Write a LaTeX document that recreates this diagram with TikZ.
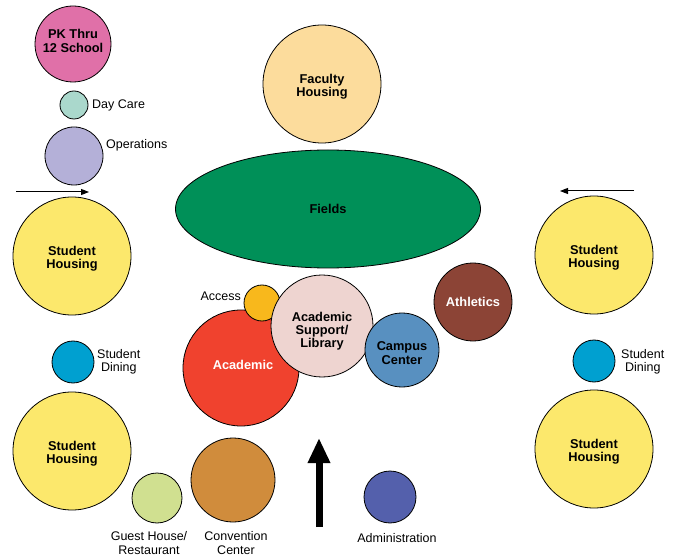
\documentclass[tikz,border=0pt]{standalone}
\usepackage{fontspec}
\setmainfont{Liberation Sans}
\usetikzlibrary{arrows.meta,shapes.geometric}
\definecolor{cpk}{RGB}{224,112,168}
\definecolor{cday}{RGB}{170,216,204}
\definecolor{cops}{RGB}{180,176,216}
\definecolor{chous}{RGB}{252,232,108}
\definecolor{cdin}{RGB}{0,160,208}
\definecolor{cguest}{RGB}{208,224,144}
\definecolor{cconv}{RGB}{208,140,60}
\definecolor{cacad}{RGB}{240,66,46}
\definecolor{cacc}{RGB}{248,184,28}
\definecolor{csup}{RGB}{238,212,208}
\definecolor{ccamp}{RGB}{88,144,192}
\definecolor{cath}{RGB}{140,68,54}
\definecolor{cfield}{RGB}{0,144,88}
\definecolor{cfac}{RGB}{252,220,156}
\definecolor{cadm}{RGB}{84,96,172}
\tikzset{
  bub/.style={circle,draw=black,line width=0.8pt,inner sep=0pt},
  tx/.style={inner sep=0pt,align=center,font=\fontsize{12.8}{13.3}\selectfont\bfseries},
  lab/.style={inner sep=0pt,align=center,font=\fontsize{12.5}{13.3}\selectfont},
  thinarrow/.style={line width=1pt,-{Triangle[length=8pt,width=6pt]}},
  bigarrow/.style={line width=7pt,-{Triangle[length=25pt,width=21pt]}}
}
\begin{document}
\begin{tikzpicture}[x=1pt,y=-1pt]
\useasboundingbox (0,0) rectangle (675,556);
% left column
\node[bub,fill=cpk,minimum size=76pt,label={[tx,yshift=3pt]center:{PK Thru\\12 School}}] (pk) at (73,44) {};
\node[bub,fill=cday,minimum size=28pt] (day) at (74,105) {};
\node[lab,anchor=west] (daylab) at (92,105) {Day Care};
\node[bub,fill=cops,minimum size=58pt] (ops) at (74,156) {};
\node[lab,anchor=west] (opslab) at (106,145) {Operations};
\coordinate (la1) at (16,192);
\coordinate (la2) at (89,192);
\draw[thinarrow] (la1) -- (la2);
\node[bub,fill=chous,minimum size=118pt,label={[tx,yshift=-3pt]center:{Student\\Housing}}] (sh1) at (72,256) {};
\node[bub,fill=cdin,minimum size=42pt] (sd1) at (73,362) {};
\node[lab,anchor=west] (sd1lab) at (97,362) {Student\\Dining};
\node[bub,fill=chous,minimum size=118pt,label={[tx,yshift=-3pt]center:{Student\\Housing}}] (sh2) at (72,451) {};
\node[bub,fill=cguest,minimum size=50pt] (gh) at (157,498) {};
\node[lab] (ghlab) at (149,543) {Guest House/\\Restaurant};
\node[bub,fill=cconv,minimum size=84pt] (cc) at (233,480) {};
\node[lab] (cclab) at (236,543) {Convention\\Center};
% center
\node[bub,fill=cfac,minimum size=118pt,label={[tx,yshift=-3pt]center:{Faculty\\Housing}}] (fac) at (322,84) {};
\node[ellipse,draw=black,line width=0.8pt,fill=cfield,minimum width=305pt,minimum height=118pt,inner sep=0pt,
  font=\fontsize{12.8}{13.3}\selectfont\bfseries] (fields) at (328,209) {Fields};
\node[bub,fill=cacad,minimum size=116pt,label={[tx,text=white,xshift=2pt,yshift=3pt]center:Academic}] (acad) at (241,368) {};
\node[bub,fill=cacc,minimum size=36pt] (acc) at (262,303) {};
\node[lab,anchor=east] (acclab) at (241,296) {Access};
\node[bub,fill=csup,minimum size=102pt,label={[tx,yshift=-5pt]center:{Academic\\Support/\\Library}}] (sup) at (322,326) {};
\node[bub,fill=ccamp,minimum size=74pt,label={[tx,yshift=-3pt]center:{Campus\\Center}}] (camp) at (402,350) {};
\node[bub,fill=cath,minimum size=78pt,label={[tx,text=white]center:Athletics}] (ath) at (473,302) {};
\coordinate (ba1) at (319,527);
\coordinate (ba2) at (319,438);
\draw[bigarrow] (ba1) -- (ba2);
\node[bub,fill=cadm,minimum size=52pt] (adm) at (390,497) {};
\node[lab] (admlab) at (397,538) {Administration};
% right column
\coordinate (ra1) at (634,191);
\coordinate (ra2) at (560,191);
\draw[thinarrow] (ra1) -- (ra2);
\node[bub,fill=chous,minimum size=118pt,label={[tx,yshift=-3pt]center:{Student\\Housing}}] (sh3) at (594,255) {};
\node[bub,fill=cdin,minimum size=42pt] (sd2) at (594,361) {};
\node[lab,anchor=west] (sd2lab) at (621,362) {Student\\Dining};
\node[bub,fill=chous,minimum size=118pt,label={[tx,yshift=-3pt]center:{Student\\Housing}}] (sh4) at (594,449) {};
\end{tikzpicture}
\end{document}
